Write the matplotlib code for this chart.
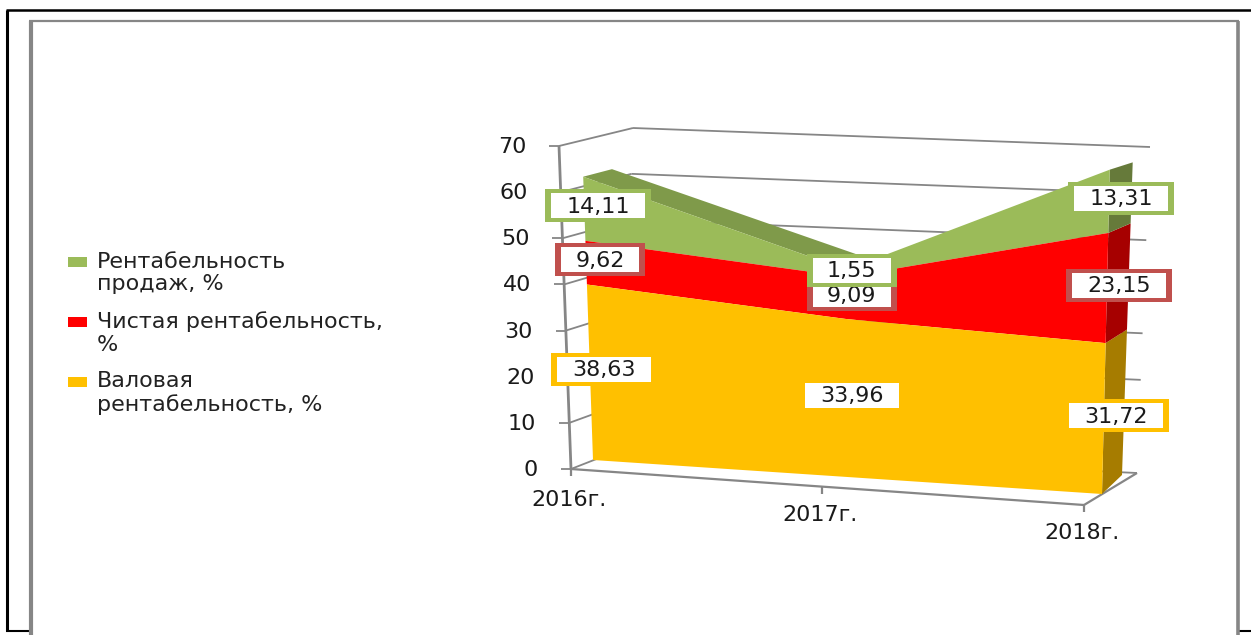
import matplotlib
matplotlib.use("Agg")
import matplotlib.pyplot as plt
from matplotlib.patches import Rectangle

years = ['2016г.', '2017г.', '2018г.']
gross = [38.63, 33.96, 31.72]
net = [9.62, 9.09, 23.15]
sales = [14.11, 1.55, 13.31]
gross_labels = ['38,63', '33,96', '31,72']
net_labels = ['9,62', '9,09', '23,15']
sales_labels = ['14,11', '1,55', '13,31']
y_ticks = [0, 10, 20, 30, 40, 50, 60, 70]
legend_names = ['Рентабельность\nпродаж, %', 'Чистая рентабельность,\n%', 'Валовая\nрентабельность, %']

# corners of each drawn plane on the page: (x=0,v=0), (x=2,v=0), (x=0,v=70), (x=2,v=70)
band_front = [(593, 460), (1102, 494), (582, 142), (1110, 161)]
band_back = [(620, 448), (1122, 475), (611, 135), (1133, 154)]
wall_front = [(571, 469), (1084, 505), (559, 146), (1096, 180)]
wall_back = [(622, 449), (1137, 473), (633, 128), (1150, 147)]

GREEN, RED, ORANGE = '#9BBB59', '#FF0000', '#FFC000'
GRID = '#868686'


def place(plane, x, v):
    # bilinear position inside one of the planes above
    a, b = x / 2, v / 70
    px = (1-a)*(1-b)*plane[0][0] + a*(1-b)*plane[1][0] + (1-a)*b*plane[2][0] + a*b*plane[3][0]
    py = (1-a)*(1-b)*plane[0][1] + a*(1-b)*plane[1][1] + (1-a)*b*plane[2][1] + a*b*plane[3][1]
    return px, py


def poly(ax, pts, color, z):
    ax.fill([p[0] for p in pts], [p[1] for p in pts], color=color, lw=0, zorder=z)


def seg(ax, p, q, color=GRID, lw=1.3, z=2):
    ax.plot([p[0], q[0]], [p[1], q[1]], color=color, lw=lw, zorder=z, solid_capstyle='butt')


fig = plt.figure(figsize=(12.51, 6.35), dpi=100)
ax = fig.add_axes([0, 0, 1, 1])
ax.set_xlim(0, 1251)
ax.set_ylim(635, 0)
ax.axis('off')

# page frames
seg(ax, (7, 631), (7, 10), 'black', 2.2)
seg(ax, (6, 10), (1251, 10), 'black', 1.8)
seg(ax, (6, 630.5), (30, 630.5), 'black', 1.5)
seg(ax, (1239, 631), (1251, 631), 'black', 1.5)
seg(ax, (30.5, 635), (30.5, 21), GRID, 3)
seg(ax, (29, 21), (1239, 21), GRID, 1.6)
seg(ax, (1238, 21), (1238, 635), GRID, 2.6)

# walls and axes
for v in y_ticks:
    seg(ax, place(wall_front, 0, v), place(wall_back, 0, v))
    seg(ax, place(wall_back, 0, v), place(wall_back, 2, v))
    px, py = place(wall_front, 0, v)
    seg(ax, (px - 10, py), (px, py))
    ax.text(px - 33, py + 1, str(v), ha='right', va='center', fontsize=16, color='#1a1a1a', zorder=6)
seg(ax, place(wall_front, 0, 0), place(wall_front, 0, 70), lw=2)
seg(ax, place(wall_front, 0, 0), place(wall_front, 2, 0), lw=1.6)
seg(ax, place(wall_front, 2, 0), place(wall_back, 2, 0), lw=1.6)

label_drop = [31, 28, 28]
for i, name in enumerate(years):
    pos = 0.978 if i == 1 else i
    px, py = place(wall_front, pos, 0)
    seg(ax, (px, py), (px, py + 7), lw=1.6)
    ax.text(px - 2, py + label_drop[i], name, ha='center', va='center', fontsize=16, color='#1a1a1a', zorder=6)

# stacked tops
s1 = [g for g in gross]
s2 = [g + n for g, n in zip(gross, net)]
s3 = [g + n + s for g, n, s in zip(gross, net, sales)]
xs = [0, 1, 2]

# top face of the falling part and the dark side at the right end
poly(ax, [place(band_front, 0, s3[0]), place(band_front, 1, s3[1]),
          place(band_back, 1, s3[1]), place(band_back, 0, s3[0])], '#7F9A4A', 3)
poly(ax, [place(band_front, 2, 0), place(band_back, 2, 0), place(band_back, 2, s1[2]), place(band_front, 2, s1[2])], '#A67C00', 3)
poly(ax, [place(band_front, 2, s1[2]), place(band_back, 2, s1[2]), place(band_back, 2, s2[2]), place(band_front, 2, s2[2])], '#A60000', 3)
poly(ax, [place(band_front, 2, s2[2]), place(band_back, 2, s2[2]), place(band_back, 2, s3[2]), place(band_front, 2, s3[2])], '#667A3A', 3)

# front faces
bottom = [place(band_front, x, 0) for x in xs]
top1 = [place(band_front, x, v) for x, v in zip(xs, s1)]
top2 = [place(band_front, x, v) for x, v in zip(xs, s2)]
top3 = [place(band_front, x, v) for x, v in zip(xs, s3)]
poly(ax, top3 + top2[::-1], GREEN, 4)
poly(ax, top2 + top1[::-1], RED, 4)
poly(ax, top1 + bottom[::-1], ORANGE, 4)

# legend
legend_y = [273, 333, 393]
for name, col, y in zip(legend_names, [GREEN, RED, ORANGE], legend_y):
    ax.add_patch(Rectangle((68, y - 16.5), 19, 10, color=col, lw=0, zorder=5))
    ax.text(97, y, name, ha='left', va='center', fontsize=16, linespacing=1.18, color='#222222', zorder=6)

# data labels
offset_x = [14, 5, 12]


def data_label(i, low, high, text, col, z):
    px, py = place(band_front, i, (low + high) / 2)
    cx, cy = px + offset_x[i], py - 3
    w = 106 if len(text) == 5 else 90
    # border is wider at the sides than on top, so two boxes
    ax.add_patch(Rectangle((cx - w / 2, cy - 16.5), w, 33, facecolor=col, lw=0, zorder=z))
    ax.add_patch(Rectangle((cx - w / 2 + 6, cy - 12.5), w - 12, 25, facecolor='white', lw=0, zorder=z + 0.2))
    ax.text(cx, cy + 1, text, ha='center', va='center', fontsize=16, color='#1a1a1a', zorder=z + 0.5)


for i in xs:
    data_label(i, 0, s1[i], gross_labels[i], ORANGE, 7)
    data_label(i, s1[i], s2[i], net_labels[i], '#C0504D', 8)
    data_label(i, s2[i], s3[i], sales_labels[i], GREEN, 9)

fig.savefig('out.png', dpi=100)
